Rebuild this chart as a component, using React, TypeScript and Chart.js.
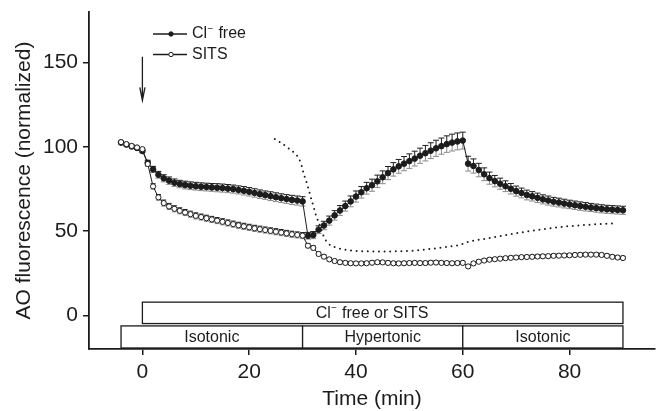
import React, { useEffect, useRef } from "react";
import { Chart, registerables } from "chart.js";

Chart.register(...registerables);

// Sampling times (min)
const minutes = [
  -4, -3, -2, -1, 0,
  1, 2, 3, 4, 5, 6, 7, 8, 9, 10,
  11, 12, 13, 14, 15, 16, 17, 18, 19, 20,
  21, 22, 23, 24, 25, 26, 27, 28, 29, 30,
  31, 32, 33, 34, 35, 36, 37, 38, 39, 40,
  41, 42, 43, 44, 45, 46, 47, 48, 49, 50,
  51, 52, 53, 54, 55, 56, 57, 58, 59, 60,
  61, 62, 63, 64, 65, 66, 67, 68, 69, 70,
  71, 72, 73, 74, 75, 76, 77, 78, 79, 80,
  81, 82, 83, 84, 85, 86, 87, 88, 89, 90,
];

// AO fluorescence, Cl- free medium (mean and SEM)
const clFree = [
  102.5, 101.3, 100.2, 99.3, 97.5,
  90.5, 86.6, 83.4, 81.3, 79.9, 78.7, 77.9, 77.3, 76.9, 76.6,
  76.3, 76.1, 75.9, 75.7, 75.5, 75.2, 74.9, 74.4, 73.9, 73.3,
  72.6, 71.9, 71.3, 70.7, 70.1, 69.5, 69.0, 68.5, 68.1, 67.6,
  47.2, 47.6, 50.8, 53.3, 56.2, 59.3, 62.2, 64.8, 67.6, 70.5,
  73.0, 75.4, 77.2, 79.5, 81.9, 84.4, 86.6, 88.4, 90.0, 91.5,
  93.0, 94.7, 96.2, 97.7, 99.1, 100.4, 101.6, 102.5, 103.2, 103.7,
  90.0, 88.6, 86.2, 83.7, 81.4, 79.6, 78.1, 76.6, 75.1, 73.7,
  72.6, 71.4, 70.6, 69.7, 68.8, 68.1, 67.4, 66.9, 66.3, 65.8,
  65.3, 64.8, 64.4, 64.0, 63.6, 63.2, 62.9, 62.7, 62.5, 62.3,
];
const clFreeSem = [
  0.8, 0.8, 0.8, 0.8, 1.0,
  1.5, 1.8, 2.0, 2.1, 2.2, 2.2, 2.2, 2.3, 2.3, 2.3,
  2.3, 2.3, 2.3, 2.4, 2.4, 2.4, 2.4, 2.4, 2.5, 2.5,
  2.5, 2.5, 2.5, 2.6, 2.6, 2.6, 2.6, 2.7, 2.7, 2.8,
  2.0, 2.1, 2.3, 2.5, 2.7, 2.8, 2.9, 3.0, 3.2, 3.3,
  3.4, 3.5, 3.6, 3.7, 3.8, 3.9, 4.0, 4.1, 4.2, 4.3,
  4.4, 4.5, 4.6, 4.7, 4.8, 4.8, 4.9, 5.0, 5.0, 5.0,
  4.4, 4.2, 4.0, 3.8, 3.6, 3.4, 3.3, 3.2, 3.1, 3.0,
  2.9, 2.9, 2.8, 2.8, 2.7, 2.7, 2.6, 2.6, 2.6, 2.5,
  2.5, 2.5, 2.5, 2.4, 2.4, 2.4, 2.4, 2.4, 2.4, 2.4,
];

// AO fluorescence, SITS (mean and SEM)
const sits = [
  102.8, 101.6, 100.5, 99.6, 98.6,
  89.8, 76.5, 70.0, 66.6, 64.6, 63.2, 62.0, 61.0, 60.0, 59.0,
  58.3, 57.6, 56.9, 56.2, 55.5, 54.8, 54.1, 53.4, 52.8, 52.2,
  51.6, 51.1, 50.6, 50.1, 49.6, 49.1, 48.6, 48.1, 47.7, 47.3,
  41.3, 40.0, 36.4, 34.8, 33.2, 32.2, 31.5, 31.1, 30.9, 30.8,
  30.8, 30.9, 31.2, 31.5, 31.4, 31.1, 30.9, 30.8, 30.9, 31.0,
  31.1, 31.0, 31.0, 31.2, 31.3, 31.1, 31.0, 30.9, 31.0, 31.1,
  29.0, 30.8, 31.8, 32.5, 33.0, 33.3, 33.6, 33.9, 34.1, 34.3,
  34.5, 34.6, 34.7, 34.9, 35.0, 35.1, 35.3, 35.4, 35.5, 35.6,
  35.8, 35.9, 36.0, 36.0, 36.0, 35.8, 35.3, 34.7, 34.3, 34.0,
];
const sitsSem = [
  0.6, 0.6, 0.6, 0.6, 0.6,
  1.5, 1.6, 1.7, 1.8, 1.8, 1.8, 1.8, 1.8, 1.8, 1.8,
  1.8, 1.8, 1.8, 1.8, 1.8, 1.8, 1.8, 1.8, 1.8, 1.8,
  1.8, 1.8, 1.8, 1.8, 1.8, 1.8, 1.8, 1.8, 1.8, 1.8,
  1.2, 1.2, 1.1, 1.0, 1.0, 1.0, 1.0, 1.0, 1.0, 1.0,
  1.0, 1.0, 1.0, 1.0, 1.0, 1.0, 1.0, 1.0, 1.0, 1.0,
  1.0, 1.0, 1.0, 1.0, 1.0, 1.0, 1.0, 1.0, 1.0, 1.0,
  1.0, 1.0, 1.0, 1.0, 1.0, 1.0, 1.0, 1.0, 1.0, 1.0,
  1.0, 1.0, 1.0, 1.0, 1.0, 1.0, 1.0, 1.0, 1.0, 1.0,
  1.0, 1.0, 1.0, 1.0, 1.0, 1.0, 1.0, 1.0, 1.0, 1.0,
];

// Dotted trace
const dottedTime = [
  24.8, 26, 27, 28, 28.8, 29.4, 29.8, 30.1, 30.4, 30.8,
  31.1, 31.4, 31.7, 32, 32.3, 32.6, 33, 33.5, 34, 34.8,
  35.9, 36.9, 37.9, 38.9, 40, 42, 44, 46, 48, 50,
  52, 54, 56, 58, 59.5, 61, 62, 64, 66, 68,
  70, 72, 74, 76, 78, 80, 82, 84, 86, 88.5,
];
const dottedValue = [
  104.6, 102.3, 100, 97.6, 95.3, 92.4, 89, 85.4, 82.1, 78.5,
  75, 71.6, 68.2, 65, 61.7, 58.4, 55.4, 50.8, 46.5, 42.7,
  40.6, 39.6, 39, 38.5, 38.2, 38, 37.9, 37.9, 38, 38.2,
  38.7, 39.4, 40.2, 41, 41.8, 43.6, 44.3, 45.3, 46.5, 47.6,
  48.7, 49.7, 50.6, 51.5, 52.3, 52.9, 53.4, 53.8, 54.2, 54.6,
];

const seriesNames = ["Cl⁻ free", "SITS"];
const xTicks = [0, 20, 40, 60, 80];
const yTicks = [0, 50, 100, 150];
const phaseLabels = ["Isotonic", "Hypertonic", "Isotonic"];
const phaseEdges = [-4, 30, 60, 90];
const treatmentLabel = "Cl⁻ free or SITS";
const treatmentSpan = [0, 90];
const additionTime = 0;

const INK = "#1c1c1c";
const GRAY = "#8a8a8a";
const FONT = '"Liberation Sans", Arial, Helvetica, sans-serif';

// Text with "⁻" rendered as a raised minus sign
function drawIonText(ctx: CanvasRenderingContext2D, text: string, x: number, y: number, size: number, align: "left" | "center") {
  const parts = text.split("⁻");
  const supSize = Math.round(size * 0.65);
  ctx.save();
  ctx.textBaseline = "middle";
  ctx.textAlign = "left";
  ctx.fillStyle = INK;
  const widths = parts.map((p) => {
    ctx.font = `${size}px ${FONT}`;
    return ctx.measureText(p).width;
  });
  ctx.font = `${supSize}px ${FONT}`;
  const supW = ctx.measureText("−").width + 1;
  const total = widths.reduce((a, b) => a + b, 0) + supW * (parts.length - 1);
  let cx = align === "center" ? x - total / 2 : x;
  parts.forEach((p, i) => {
    ctx.font = `${size}px ${FONT}`;
    ctx.fillText(p, cx, y);
    cx += widths[i];
    if (i < parts.length - 1) {
      ctx.font = `${supSize}px ${FONT}`;
      ctx.fillText("−", cx + 0.5, y - size * 0.32);
      cx += supW;
    }
  });
  ctx.restore();
}

function drawErrorBars(ctx: CanvasRenderingContext2D, xs: any, ys: any, values: number[], sem: number[], cap: number) {
  ctx.save();
  ctx.lineWidth = 1;
  values.forEach((v, i) => {
    const px = xs.getPixelForValue(minutes[i]);
    const pMid = ys.getPixelForValue(v);
    const pTop = ys.getPixelForValue(v + sem[i]);
    const pBot = ys.getPixelForValue(v - sem[i]);
    ctx.strokeStyle = INK;
    ctx.beginPath();
    ctx.moveTo(px, pMid);
    ctx.lineTo(px, pTop);
    ctx.moveTo(px - cap, pTop);
    ctx.lineTo(px + cap, pTop);
    ctx.stroke();
    ctx.strokeStyle = GRAY;
    ctx.beginPath();
    ctx.moveTo(px, pMid);
    ctx.lineTo(px, pBot);
    ctx.moveTo(px - cap, pBot);
    ctx.lineTo(px + cap, pBot);
    ctx.stroke();
  });
  ctx.restore();
}

const overlay = {
  id: "overlay",
  beforeDatasetsDraw(chart: any) {
    const { ctx, scales } = chart;
    drawErrorBars(ctx, scales.x, scales.y, clFree, clFreeSem, 3);
    drawErrorBars(ctx, scales.x, scales.y, sits, sitsSem, 2.5);
  },
  afterDatasetsDraw(chart: any) {
    const { ctx, scales, chartArea } = chart;
    const xs = scales.x;
    const ys = scales.y;

    // Protocol bars under the traces
    ctx.save();
    ctx.strokeStyle = INK;
    ctx.lineWidth = 1.3;
    ctx.fillStyle = "#fff";
    const tTop = ys.getPixelForValue(7.8);
    const tBot = ys.getPixelForValue(-4.9);
    const tL = xs.getPixelForValue(treatmentSpan[0]);
    const tR = xs.getPixelForValue(treatmentSpan[1]);
    ctx.fillRect(tL, tTop, tR - tL, tBot - tTop);
    ctx.strokeRect(tL, tTop, tR - tL, tBot - tTop);
    const pTop = ys.getPixelForValue(-6.3);
    const pBot = ys.getPixelForValue(-19.4);
    for (let i = 0; i < phaseLabels.length; i++) {
      const l = xs.getPixelForValue(phaseEdges[i]);
      const r = xs.getPixelForValue(phaseEdges[i + 1]);
      ctx.fillRect(l, pTop, r - l, pBot - pTop);
      ctx.strokeRect(l, pTop, r - l, pBot - pTop);
      ctx.fillStyle = INK;
      ctx.font = `16px ${FONT}`;
      ctx.textAlign = "center";
      ctx.textBaseline = "middle";
      ctx.fillText(phaseLabels[i], (l + r) / 2, (pTop + pBot) / 2 + 1);
      ctx.fillStyle = "#fff";
    }
    ctx.restore();
    drawIonText(ctx, treatmentLabel, xs.getPixelForValue(43), (tTop + tBot) / 2 + 1, 16, "center");

    // Arrow marking the addition
    const ax = xs.getPixelForValue(additionTime);
    const a0 = ys.getPixelForValue(153.5);
    const a1 = ys.getPixelForValue(127.5);
    ctx.save();
    ctx.strokeStyle = INK;
    ctx.lineWidth = 1.3;
    ctx.beginPath();
    ctx.moveTo(ax, a0);
    ctx.lineTo(ax, a1);
    ctx.moveTo(ax - 2.6, a1 - 13);
    ctx.lineTo(ax, a1);
    ctx.lineTo(ax + 2.6, a1 - 13);
    ctx.stroke();
    ctx.restore();

    // Legend
    const rows = [chartArea.top + 22, chartArea.top + 42.5];
    const lx0 = chartArea.left + 64;
    const lx1 = chartArea.left + 98;
    const mx = chartArea.left + 82;
    rows.forEach((ry, i) => {
      ctx.save();
      ctx.strokeStyle = INK;
      ctx.lineWidth = 1.3;
      ctx.beginPath();
      ctx.moveTo(lx0, ry);
      ctx.lineTo(lx1, ry);
      ctx.stroke();
      ctx.beginPath();
      ctx.arc(mx, ry, 2.2, 0, Math.PI * 2);
      ctx.fillStyle = i === 0 ? INK : "#fff";
      ctx.fill();
      ctx.lineWidth = 1;
      ctx.stroke();
      ctx.restore();
      drawIonText(ctx, seriesNames[i], chartArea.left + 103, ry, 16, "left");
    });
  },
};

export default function App() {
  const ref = useRef<HTMLCanvasElement>(null);

  useEffect(() => {
    document.body.style.margin = "0";
    Chart.defaults.font.family = FONT;
    const chart = new Chart(ref.current as HTMLCanvasElement, {
      type: "line",
      data: {
        datasets: [
          {
            label: seriesNames[1],
            data: minutes.map((t, i) => ({ x: t, y: sits[i] })),
            order: 0,
            borderColor: INK,
            borderWidth: 1,
            pointRadius: 2.6,
            pointBackgroundColor: "#fff",
            pointBorderColor: INK,
            pointBorderWidth: 1,
            tension: 0,
          },
          {
            label: seriesNames[0],
            data: minutes.map((t, i) => ({ x: t, y: clFree[i] })),
            order: 1,
            borderColor: INK,
            borderWidth: 1,
            pointRadius: 2.8,
            pointBackgroundColor: INK,
            pointBorderColor: INK,
            pointBorderWidth: 1,
            tension: 0,
          },
          {
            label: "dotted",
            data: dottedTime.map((t, i) => ({ x: t, y: dottedValue[i] })),
            order: 2,
            borderColor: INK,
            borderWidth: 2,
            borderDash: [0, 5.6],
            borderCapStyle: "round",
            pointRadius: 0,
            cubicInterpolationMode: "monotone",
          },
        ],
      },
      options: {
        responsive: false,
        animation: false,
        devicePixelRatio: 1,
        layout: { padding: { left: 0, top: 12, right: 5, bottom: 0 } },
        plugins: { legend: { display: false }, tooltip: { enabled: false } },
        scales: {
          x: {
            type: "linear",
            min: -10,
            max: 96,
            afterBuildTicks: (s: any) => {
              s.ticks = xTicks.map((v) => ({ value: v }));
            },
            afterFit: (s: any) => {
              s.height = 62;
              s.paddingLeft = 0;
              s.paddingRight = 0;
              s.paddingTop = 0;
              s.paddingBottom = 0;
            },
            grid: { display: true, drawOnChartArea: false, drawTicks: true, tickLength: 6, color: INK, lineWidth: 1.5 },
            border: { display: true, color: INK, width: 1.8 },
            ticks: { color: INK, font: { size: 21 }, padding: 5, maxRotation: 0 },
            title: {
              display: true,
              text: "Time (min)",
              color: INK,
              font: { size: 21, lineHeight: 1.1 },
              padding: { top: 0, bottom: 0 },
            },
          },
          y: {
            type: "linear",
            min: -20,
            max: 180,
            afterBuildTicks: (s: any) => {
              s.ticks = yTicks.map((v) => ({ value: v }));
            },
            afterFit: (s: any) => {
              s.width = 89;
              s.paddingLeft = 0;
              s.paddingRight = 0;
              s.paddingTop = 0;
              s.paddingBottom = 0;
            },
            grid: { display: true, drawOnChartArea: false, drawTicks: true, tickLength: 6, color: INK, lineWidth: 1.5 },
            border: { display: true, color: INK, width: 1.8 },
            ticks: { color: INK, font: { size: 21 }, padding: 5 },
            title: {
              display: true,
              text: "AO fluorescence (normalized)",
              color: INK,
              font: { size: 21 },
              padding: { top: 12, bottom: 0 },
            },
          },
        },
      },
      plugins: [overlay],
    });
    return () => chart.destroy();
  }, []);

  return (
    <div style={{ width: 660, height: 411 }}>
      <canvas ref={ref} width={660} height={411} style={{ display: "block" }} />
    </div>
  );
}
